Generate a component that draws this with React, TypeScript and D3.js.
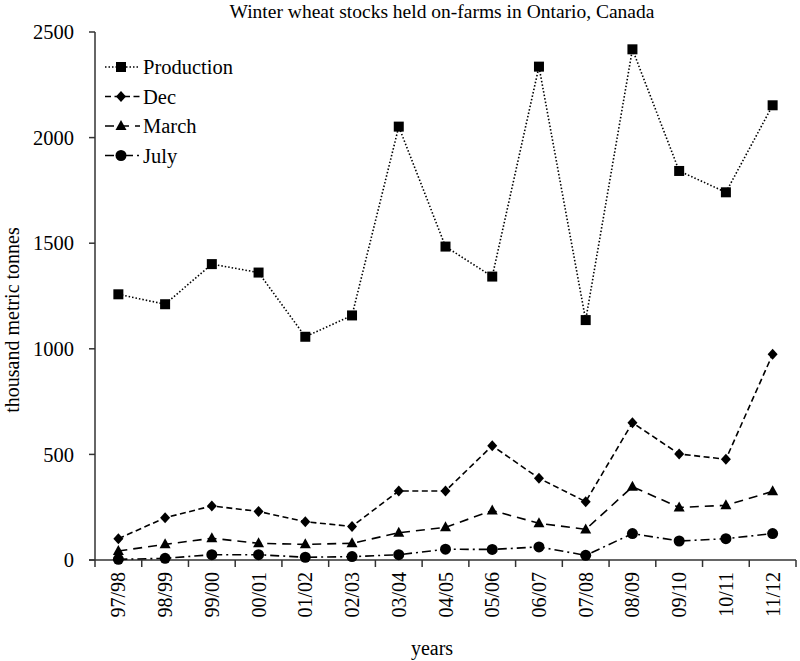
import React from "react";
import * as d3 from "d3";

const categories = ["97/98","98/99","99/00","00/01","01/02","02/03","03/04","04/05","05/06","06/07","07/08","08/09","09/10","10/11","11/12"];
const production = [1258,1211,1401,1361,1057,1158,2052,1484,1342,2336,1136,2418,1842,1741,2153];
const dec = [101,200,256,230,181,159,327,327,541,387,276,650,502,477,974];
const march = [43,74,103,79,74,79,129,155,234,174,145,347,249,259,325];
const july = [3,8,25,25,13,16,25,51,50,62,22,125,90,101,125];
const yTicks = [0,500,1000,1500,2000,2500];

const W = 800, H = 661;
const left = 95, right = 796, top = 32, bottom = 560;
const FONT = "'Liberation Serif', 'Times New Roman', serif";

type Series = { name: string; values: number[]; dash: string; marker: string };
const series: Series[] = [
  { name: "Production", values: production, dash: "1.5,2", marker: "square" },
  { name: "Dec", values: dec, dash: "6,3.5", marker: "diamond" },
  { name: "March", values: march, dash: "9,6", marker: "triangle" },
  { name: "July", values: july, dash: "9,4,2,4", marker: "circle" },
];

function Marker({ type, x, y }: { type: string; x: number; y: number }) {
  if (type === "square") return <rect x={x - 5} y={y - 5} width={10} height={10} fill="#000" />;
  if (type === "diamond") return <path d={`M${x},${y - 5.5}L${x + 5},${y}L${x},${y + 5.5}L${x - 5},${y}Z`} fill="#000" />;
  if (type === "triangle") return <path d={`M${x},${y - 6}L${x + 5.5},${y + 4}L${x - 5.5},${y + 4}Z`} fill="#000" />;
  return <circle cx={x} cy={y} r={5.5} fill="#000" />;
}

export default function App() {
  const x = d3.scaleBand<string>().domain(categories).range([left, right]).padding(0);
  const y = d3.scaleLinear().domain([0, 2500]).range([bottom, top]);
  const cx = (c: string) => (x(c) as number) + x.bandwidth() / 2;
  const line = d3.line<number>().x((_, i) => cx(categories[i])).y((v) => y(v));
  const boundaries = categories.map((c) => x(c) as number).concat([right]);

  return (
    <svg width={W} height={H} style={{ position: "absolute", left: 0, top: 0, background: "#fff" }}>
      <rect width={W} height={H} fill="#fff" />
      <text x={442} y={18} textAnchor="middle" fontFamily={FONT} fontSize={19.5} fill="#000">
        Winter wheat stocks held on-farms in Ontario, Canada
      </text>
      {/* y axis */}
      <line x1={left} x2={left} y1={top} y2={bottom} stroke="#333" strokeWidth={1.5} />
      {yTicks.map((t) => (
        <g key={t}>
          <line x1={left - 6} x2={left} y1={y(t)} y2={y(t)} stroke="#333" strokeWidth={1.5} />
          <text x={left - 21} y={y(t)} dy="0.35em" textAnchor="end" fontFamily={FONT} fontSize={20.5} fill="#000">{t}</text>
        </g>
      ))}
      <text transform={`translate(12,320) rotate(-90)`} textAnchor="middle" dy="0.35em" fontFamily={FONT} fontSize={20} fill="#000">
        thousand metric tonnes
      </text>
      {/* x axis */}
      <line x1={left - 6} x2={right} y1={bottom} y2={bottom} stroke="#333" strokeWidth={1.5} />
      {boundaries.map((b, i) => (
        <line key={i} x1={b} x2={b} y1={bottom} y2={bottom + 7} stroke="#333" strokeWidth={1.5} />
      ))}
      {categories.map((c) => (
        <text key={c} transform={`translate(${cx(c)},${bottom + 12}) rotate(-90)`} textAnchor="end" dy="0.35em" fontFamily={FONT} fontSize={20} fill="#000">{c}</text>
      ))}
      <text x={432} y={655} textAnchor="middle" fontFamily={FONT} fontSize={20} fill="#000">years</text>
      {/* series */}
      {series.map((s) => (
        <g key={s.name}>
          <path d={line(s.values) as string} fill="none" stroke="#000" strokeWidth={1.6} strokeDasharray={s.dash} />
          {s.values.map((v, i) => (
            <Marker key={i} type={s.marker} x={cx(categories[i])} y={y(v)} />
          ))}
        </g>
      ))}
      {/* legend */}
      {series.map((s, i) => {
        const ly = 67 + i * 29.5;
        return (
          <g key={s.name}>
            <line x1={105} x2={140} y1={ly} y2={ly} stroke="#000" strokeWidth={1.6} strokeDasharray={s.dash} />
            <Marker type={s.marker} x={121} y={ly} />
            <text x={143} y={ly} dy="0.35em" fontFamily={FONT} fontSize={20.5} fill="#000">{s.name}</text>
          </g>
        );
      })}
    </svg>
  );
}
